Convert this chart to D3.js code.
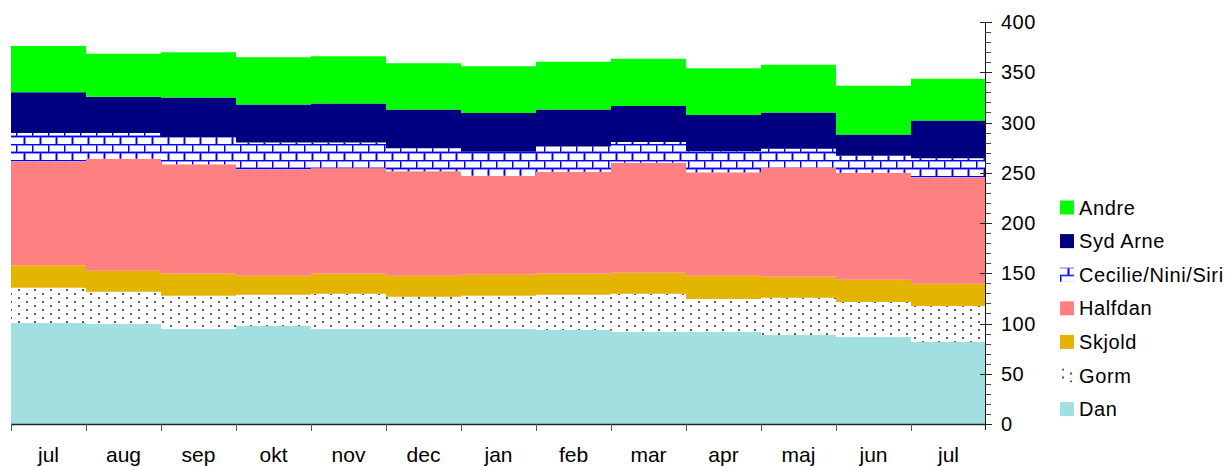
<!DOCTYPE html>
<html>
<head>
<meta charset="utf-8">
<script src="https://cdn.jsdelivr.net/npm/d3@7"></script>
<style>
  body { margin: 0; background: #fff; }
  text { font-family: "Liberation Sans", Arial, sans-serif; fill: #000; }
</style>
</head>
<body>
<div id="chart"></div>
<script>
'use strict';

// months shown along the x axis (jul .. jul)
var months = ['jul', 'aug', 'sep', 'okt', 'nov', 'dec', 'jan', 'feb', 'mar', 'apr', 'maj', 'jun', 'jul'];

// layers, bottom to top
var series = ['Dan', 'Gorm', 'Skjold', 'Halfdan', 'Cecilie/Nini/Siri', 'Syd Arne', 'Andre'];

var dan      = [100.5, 99.5, 94.5, 97.5, 94.5, 94.5, 94.5, 93.5, 91.5, 91.5, 88.5, 86.5, 81.5];
var gorm     = [35, 32, 33, 31, 35, 32, 33, 35, 38, 33, 37, 35, 36];
var skjold   = [22.5, 21, 22, 19, 20, 21, 21, 21, 21, 23, 21, 22, 22];
var halfdan  = [103.5, 111.5, 109, 106, 105, 104, 98.5, 101.5, 109.5, 103, 108.5, 106.5, 106];
var cecilie  = [28, 25.5, 27, 26.5, 25.5, 23, 24, 25, 20.5, 21, 19, 17, 19];
var sydArne  = [40.5, 36, 39.5, 38, 39, 38.5, 38.5, 37, 36, 36, 36, 21, 37.5];
var andre    = [46, 43, 45, 47, 47, 46, 46.5, 47.5, 47, 46.5, 47.5, 48.5, 41.5];

var yTicks = [0, 50, 100, 150, 200, 250, 300, 350, 400];

var values = [dan, gorm, skjold, halfdan, cecilie, sydArne, andre];
var colors = ['#a2dfe0', 'url(#dots)', '#e3b500', '#ff8080', 'url(#bricks)', '#000080', '#00ff00'];

var width = 1225, height = 466;
var x = d3.scaleLinear().domain([0, months.length]).range([11, 986]);
var y = d3.scaleLinear().domain([0, 400]).range([424, 22]);

var svg = d3.select('#chart').append('svg').attr('width', width).attr('height', height);

// fill patterns
var defs = svg.append('defs');
var dots = defs.append('pattern').attr('id', 'dots').attr('patternUnits', 'userSpaceOnUse')
  .attr('width', 16).attr('height', 8);
dots.append('rect').attr('width', 16).attr('height', 8).attr('fill', '#fff');
dots.append('rect').attr('x', 2).attr('y', 1).attr('width', 2).attr('height', 2).attr('fill', '#5a5a5a');
dots.append('rect').attr('x', 10).attr('y', 5).attr('width', 2).attr('height', 2).attr('fill', '#5a5a5a');

var bricks = defs.append('pattern').attr('id', 'bricks').attr('patternUnits', 'userSpaceOnUse')
  .attr('width', 16).attr('height', 16);
bricks.append('rect').attr('width', 16).attr('height', 16).attr('fill', '#fff');
bricks.append('path')
  .attr('d', 'M0,0.5H16M0,8.5H16M0.5,0V8M8.5,8V16')
  .attr('stroke', '#9090ff').attr('stroke-width', 3).attr('fill', 'none');
bricks.append('path')
  .attr('d', 'M0,0.5H16M0,8.5H16M0.5,0V8M8.5,8V16')
  .attr('stroke', '#0000ff').attr('stroke-width', 1.2).attr('fill', 'none');

// stacked data
var rows = months.map(function (m, i) {
  var r = { i: i };
  series.forEach(function (s, k) { r[s] = values[k][i]; });
  return r;
});
// closing point so the last month's step has width
var last = Object.assign({}, rows[rows.length - 1], { i: months.length });
rows.push(last);

var stacked = d3.stack().keys(series)(rows);

var area = d3.area()
  .curve(d3.curveStepAfter)
  .x(function (d) { return x(d.data.i); })
  .y0(function (d) { return y(d[0]); })
  .y1(function (d) { return y(d[1]); });

svg.append('g').selectAll('path').data(stacked).enter().append('path')
  .attr('d', area)
  .attr('fill', function (d, k) { return colors[k]; });

// x axis
var xAxis = svg.append('g');
xAxis.append('line').attr('x1', x(0)).attr('x2', x(months.length) - 1)
  .attr('y1', y(0) + 0.5).attr('y2', y(0) + 0.5).attr('stroke', '#222').attr('stroke-width', 1.5);
xAxis.selectAll('.tk').data(d3.range(months.length)).enter().append('line')
  .attr('x1', function (d) { return x(d) + 0.5; }).attr('x2', function (d) { return x(d) + 0.5; })
  .attr('y1', y(0)).attr('y2', y(0) + 7).attr('stroke', '#555');
xAxis.selectAll('text').data(months).enter().append('text')
  .attr('x', function (d, i) { return x(i + 0.5); })
  .attr('y', 462)
  .attr('text-anchor', 'middle')
  .style('font-size', '21px')
  .text(function (d) { return d; });

// y axis on the right
var ax = x(months.length) - 1;
var yAxis = svg.append('g');
yAxis.append('line').attr('x1', ax + 0.5).attr('x2', ax + 0.5)
  .attr('y1', y(400)).attr('y2', y(0) + 6).attr('stroke', '#111');
yAxis.selectAll('.minor').data(d3.range(0, 401, 10)).enter().append('line')
  .attr('x1', ax).attr('x2', ax + 6)
  .attr('y1', function (d) { return Math.round(y(d)) + 0.5; })
  .attr('y2', function (d) { return Math.round(y(d)) + 0.5; })
  .attr('stroke', '#444');
yAxis.selectAll('.major').data(yTicks).enter().append('line')
  .attr('x1', ax - 5).attr('x2', ax + 7)
  .attr('y1', function (d) { return Math.round(y(d)) + 0.5; })
  .attr('y2', function (d) { return Math.round(y(d)) + 0.5; })
  .attr('stroke', '#222');
yAxis.selectAll('text').data(yTicks).enter().append('text')
  .attr('x', 1001)
  .attr('y', function (d) { return y(d); })
  .attr('dy', '0.35em')
  .style('font-size', '20px')
  .style('letter-spacing', '0.5px')
  .text(function (d) { return d; });

// legend, top entry is the top layer
var legend = svg.append('g').selectAll('g').data(series.slice().reverse()).enter().append('g')
  .attr('transform', function (d, i) { return 'translate(1060,' + (207.5 + i * 33.6) + ')'; });
legend.append('rect').attr('x', 0).attr('y', -7).attr('width', 14).attr('height', 14)
  .attr('fill', function (d) { return colors[series.indexOf(d)]; });
legend.append('text').attr('x', 19).attr('dy', '0.35em')
  .style('font-size', '20px')
  .style('letter-spacing', '0.6px')
  .text(function (d) { return d; });
</script>
</body>
</html>
